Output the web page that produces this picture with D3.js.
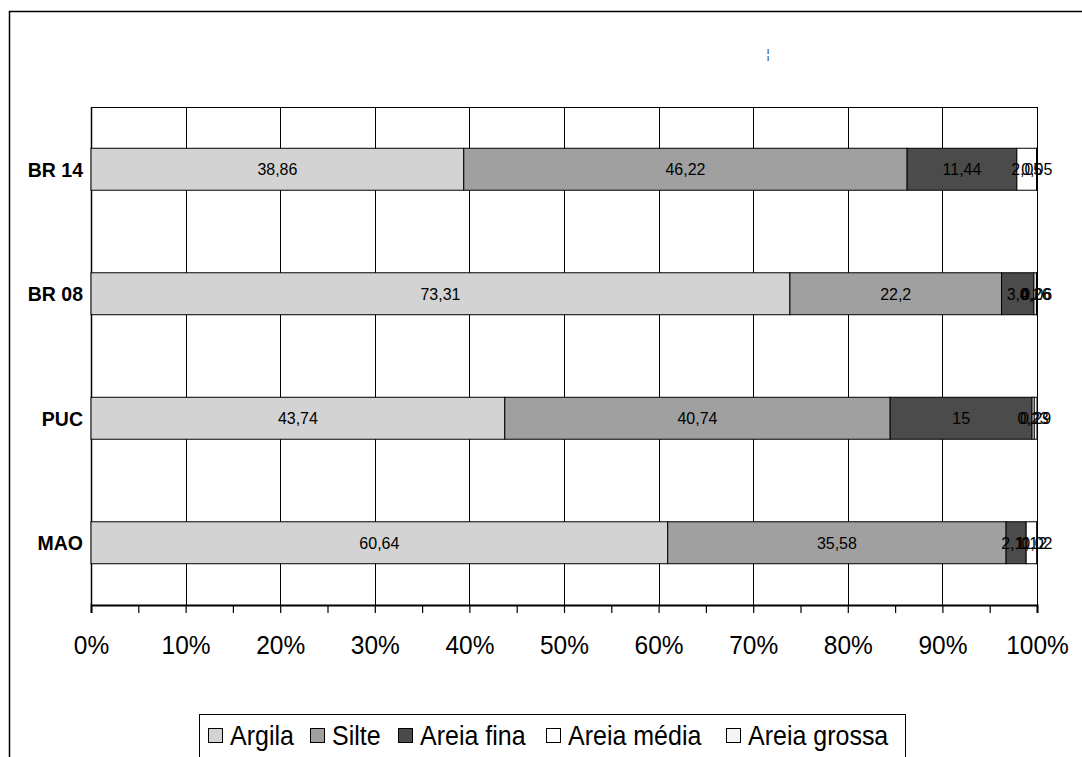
<!DOCTYPE html>
<html>
<head>
<meta charset="utf-8">
<script src="https://cdn.jsdelivr.net/npm/d3@7/dist/d3.min.js"></script>
<style>
  html, body { margin: 0; padding: 0; background: #fff; }
  svg { display: block; font-family: "Liberation Sans", Arial, sans-serif; }
</style>
</head>
<body>
<svg id="chart" width="1082" height="757"></svg>
<script>
// Soil texture fractions per sample (%)
const samples = ["BR 14", "BR 08", "PUC", "MAO"];
const seriesNames = ["Argila", "Silte", "Areia fina", "Areia média", "Areia grossa"];
const argila = [38.86, 73.31, 43.74, 60.64];
const silte = [46.22, 22.2, 40.74, 35.58];
const areiaFina = [11.44, 3.4, 15, 2.11];
const areiaMedia = [2.05, 0.26, 0.23, 1.12];
const areiaGrossa = [0.05, 0.06, 0.29, 0.02];
const tickValues = [0, 0.1, 0.2, 0.3, 0.4, 0.5, 0.6, 0.7, 0.8, 0.9, 1.0];

const seriesValues = [argila, silte, areiaFina, areiaMedia, areiaGrossa];
const fills = ["#d3d3d3", "#a0a0a0", "#4b4b4b", "#ffffff", "#f4f4f4"];

const svg = d3.select("#chart");
const margin = { left: 91, right: 1037, top: 107, bottom: 605 };

// Outer chart frame (continues past the right and bottom edges)
svg.append("rect")
  .attr("x", 9.5).attr("y", 11.5)
  .attr("width", 1120).attr("height", 800)
  .attr("fill", "none").attr("stroke", "#000").attr("stroke-width", 1.5);

// small stray mark near the top
svg.append("text").attr("x", 768).attr("y", 58)
  .attr("font-size", 12).attr("fill", "#333").attr("text-anchor", "middle").text("¦");

const x = d3.scaleLinear().domain([0, 1]).range([margin.left, margin.right]);
const pIn = 0.663;
const y = d3.scaleBand().domain(samples)
  .range([margin.top, margin.bottom])
  .paddingInner(pIn).paddingOuter(pIn / 2);

// Vertical gridlines
svg.append("g").selectAll("line").data(tickValues).join("line")
  .attr("x1", d => Math.round(x(d)) + 0.5).attr("x2", d => Math.round(x(d)) + 0.5)
  .attr("y1", margin.top).attr("y2", margin.bottom)
  .attr("stroke", "#000").attr("stroke-width", 1);

// Plot area border top and left
svg.append("line").attr("x1", margin.left).attr("x2", margin.right)
  .attr("y1", margin.top + 0.5).attr("y2", margin.top + 0.5)
  .attr("stroke", "#000").attr("stroke-width", 1.2);
svg.append("line").attr("x1", margin.left + 0.5).attr("x2", margin.left + 0.5)
  .attr("y1", margin.top).attr("y2", margin.bottom)
  .attr("stroke", "#000").attr("stroke-width", 1.5);

// Stack rows into 100% proportions
const rows = samples.map((s, i) => {
  const vals = seriesValues.map(arr => arr[i]);
  const total = d3.sum(vals);
  let acc = 0;
  return vals.map((v, k) => {
    const seg = { sample: s, series: k, value: v, x0: acc / total, x1: (acc + v) / total };
    acc += v;
    return seg;
  });
});
const segments = rows.flat();

svg.append("g").selectAll("rect").data(segments).join("rect")
  .attr("x", d => x(d.x0)).attr("width", d => x(d.x1) - x(d.x0))
  .attr("y", d => y(d.sample)).attr("height", y.bandwidth())
  .attr("fill", d => fills[d.series])
  .attr("stroke", "#000").attr("stroke-width", 1);

// Value labels, slightly taller than wide
const fmt = v => String(v).replace(".", ",");
svg.append("g").selectAll("text").data(segments).join("text")
  .attr("transform", d => `translate(${(x(d.x0) + x(d.x1)) / 2},${y(d.sample) + y.bandwidth() / 2 + 6}) scale(1,1.06)`)
  .attr("text-anchor", "middle")
  .attr("font-size", 16)
  .attr("fill", "#000")
  .text(d => fmt(d.value));

// Category labels
svg.append("g").selectAll("text").data(samples).join("text")
  .attr("transform", d => `translate(83,${y(d) + y.bandwidth() / 2 + 7.5}) scale(1,1.08)`)
  .attr("text-anchor", "end")
  .attr("font-size", 19.5).attr("font-weight", "bold")
  .text(d => d);

// Bottom axis with 5% minor ticks
const axis = d3.axisBottom(x)
  .tickValues(d3.range(0, 1.0001, 0.05))
  .tickSize(8)
  .tickFormat(d => (Math.round(d * 100) % 10 === 0) ? Math.round(d * 100) + "%" : "");
const gAxis = svg.append("g").attr("transform", `translate(0,${margin.bottom})`).call(axis);
gAxis.select(".domain").attr("stroke", "#000").attr("stroke-width", 2);
gAxis.selectAll(".tick line").attr("stroke", "#000").attr("stroke-width", 1.2);
gAxis.selectAll(".tick text")
  .attr("font-size", 24.5).attr("font-family", "'Liberation Sans', Arial, sans-serif")
  .attr("fill", "#000").attr("y", 0).attr("dy", null)
  .attr("transform", "translate(0,49) scale(1,1.08)");

// Legend
const legend = svg.append("g");
legend.append("rect").attr("x", 199.5).attr("y", 714.5)
  .attr("width", 706).attr("height", 80)
  .attr("fill", "#fff").attr("stroke", "#000").attr("stroke-width", 1);
const legendX = [208, 310, 398, 546, 726];
seriesNames.forEach((name, i) => {
  const g = legend.append("g").attr("transform", `translate(${legendX[i]},0)`);
  g.append("rect").attr("x", 0.5).attr("y", 728.5).attr("width", 14).attr("height", 14)
    .attr("fill", fills[i]).attr("stroke", "#000").attr("stroke-width", 1);
  g.append("text").attr("transform", "translate(22,745) scale(1,1.1)")
    .attr("font-size", 25).attr("fill", "#000").text(name);
});
</script>
</body>
</html>
